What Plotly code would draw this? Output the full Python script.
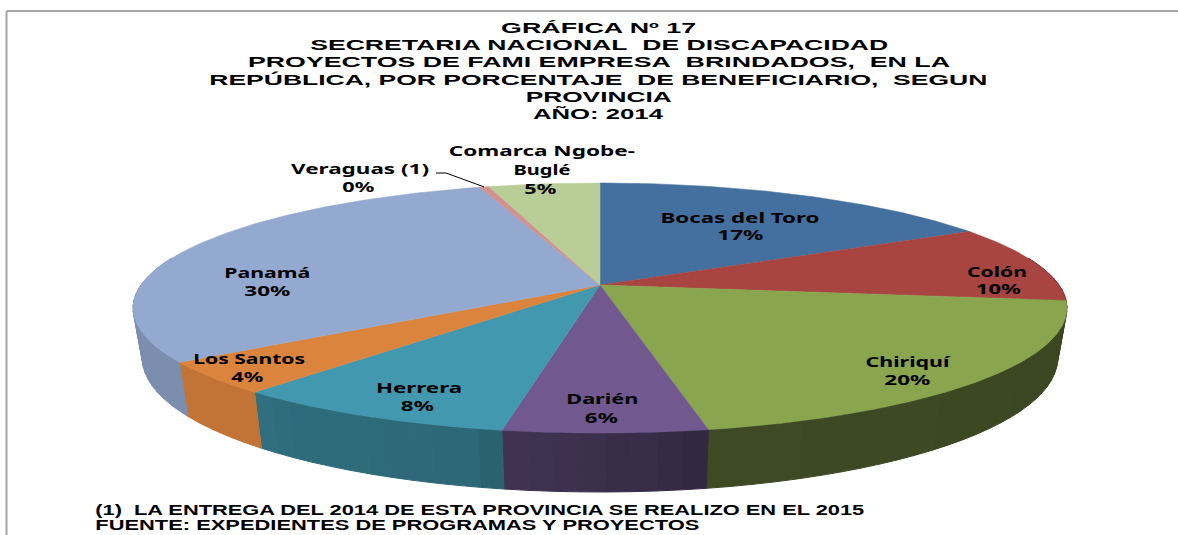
import json
import numpy as np
import plotly.graph_objects as go

# ---- data ----
PROVINCES = ["Bocas del Toro", "Colón", "Chiriquí", "Darién", "Herrera",
             "Los Santos", "Panamá", "Veraguas (1)", "Comarca Ngobe-Buglé"]
VALUES = [17, 10, 19.9, 5.9, 8.4, 4.1, 29.7, 0.4, 4.6]
TOP_COLORS = ["#44709f", "#a84541", "#89a54e", "#71588f", "#4198af",
              "#db843d", "#93a9cf", "#d19392", "#b9cd96"]

TITLE_LINES = ["GRÁFICA Nº 17",
               "SECRETARIA NACIONAL\u00a0 DE DISCAPACIDAD",
               "PROYECTOS DE FAMI EMPRESA\u00a0 BRINDADOS,\u00a0 EN LA",
               "REPÚBLICA, POR PORCENTAJE\u00a0 DE BENEFICIARIO,\u00a0 SEGUN",
               "PROVINCIA",
               "AÑO: 2014"]
NOTE_LINES = ["(1)\u00a0 LA ENTREGA DEL 2014 DE ESTA PROVINCIA SE REALIZO EN EL 2015",
              "FUENTE: EXPEDIENTES DE PROGRAMAS Y PROYECTOS"]
PIE_NAME_LINES = [["Bocas del Toro"], ["Colón"], ["Chiriquí"], ["Darién"], ["Herrera"],
                  ["Los Santos"], ["Panamá"], ["Veraguas (1)"], ["Comarca Ngobe-", "Buglé"]]

# ---- layout: text boxes as (left, right, centre y) in picture pixels ----
TITLE_BOX = [(501, 696, 27), (310, 888, 44), (248, 950, 61), (209, 987, 79), (526, 672, 96), (533, 663, 113)]
NOTE_BOX = [(95, 864, 510), (95, 699, 525)]
PIE_NAME_BOX = [[(660, 819, 217)], [(967, 1027, 271)], [(866, 950, 361)], [(566, 638, 398)], [(376, 462, 387)],
                [(193, 305, 358)], [(224, 310, 272)], [(291, 429, 168)], [(449, 635, 150), (513, 570, 169)]]
PIE_PCT_BOX = [(717, 763, 234), (976, 1021, 288), (884, 930, 379), (585, 618, 417), (401, 434, 405),
               (231, 263, 376), (244, 290, 290), (342, 374, 186), (524, 556, 188)]

# ---- perspective pie geometry ----
CX, CY = 600, 285
A, B, K = 459, 120.8, 0.184
DROP, SHRINK_X, STRETCH_Y = 48.6, 0.98, 1.07
SIDE_ANGLE = [90, 170, 175, 190, 192, 219, 220, 234, 235, 360]
SIDE_SHADE = [.42, .45, .50, .58, .68, .72, .88, .88, .84, .84]


def top(theta):
    t = np.radians(theta)
    d = 1 + K * np.cos(t)
    return CX + A * np.sin(t) / d, CY - B * np.cos(t) / d


def bottom(theta):
    x, y = top(theta)
    return CX + (x - CX) * SHRINK_X, CY + (y - CY) * STRETCH_Y + DROP


def shade(hex_color, f):
    r, g, b = (int(hex_color[i:i + 2], 16) for i in (1, 3, 5))
    return f"rgb({r * f:.0f},{g * f:.0f},{b * f:.0f})"


fig = go.Figure()
total = sum(VALUES)
edges = np.concatenate([[0], np.cumsum(VALUES) / total * 360])

# side wall
for i, name in enumerate(PROVINCES):
    a0, a1 = edges[i], edges[i + 1]
    n = max(2, int((a1 - a0) / 2.5))
    for s in range(n):
        t0 = a0 + (a1 - a0) * s / n
        t1 = a0 + (a1 - a0) * (s + 1) / n
        if np.cos(np.radians((t0 + t1) / 2)) > 0.25:
            continue
        x0, y0 = top(t0)
        x1, y1 = top(t1)
        x2, y2 = bottom(t1)
        x3, y3 = bottom(t0)
        col = shade(TOP_COLORS[i], float(np.interp((t0 + t1) / 2, SIDE_ANGLE, SIDE_SHADE)))
        fig.add_trace(go.Scatter(x=[x0, x1, x2, x3, x0], y=[y0, y1, y2, y3, y0], mode="lines",
                                 fill="toself", fillcolor=col, line=dict(color=col, width=1),
                                 hoverinfo="skip", showlegend=False))

# top faces
for i, name in enumerate(PROVINCES):
    th = np.linspace(edges[i], edges[i + 1], max(3, int(VALUES[i] * 6)))
    x, y = top(th)
    xs = np.concatenate([[CX], x, [CX]])
    ys = np.concatenate([[CY], y, [CY]])
    fig.add_trace(go.Scatter(x=xs, y=ys, mode="lines", fill="toself", fillcolor=TOP_COLORS[i],
                             line=dict(color=TOP_COLORS[i], width=0.5), name=name,
                             text=f"{name}: {VALUES[i] / total:.0%}", hoverinfo="text", showlegend=False))

# leader line for Veraguas
vi = PROVINCES.index("Veraguas (1)")
lx, ly = top((edges[vi] + edges[vi + 1]) / 2)
fig.add_trace(go.Scatter(x=[436, 446, lx], y=[173, 173, ly], mode="lines",
                         line=dict(color="#000000", width=1), hoverinfo="skip", showlegend=False))

annotations, widths = [], []


def add_text(text, box, family, size):
    x0, x1, yc = box
    annotations.append(dict(text=f"<b>{text}</b>", x=(x0 + x1) / 2, y=yc, xref="x", yref="y",
                            xanchor="center", yanchor="middle", showarrow=False,
                            font=dict(family=family, size=size, color="#000000")))
    widths.append(x1 - x0)


SANS = "Liberation Sans"
LABEL = "Noto Sans"
for line, box in zip(TITLE_LINES, TITLE_BOX):
    add_text(line, box, SANS, 15)
for line, box in zip(NOTE_LINES, NOTE_BOX):
    add_text(line, box, SANS, 14)
for i in range(len(PROVINCES)):
    for line, box in zip(PIE_NAME_LINES[i], PIE_NAME_BOX[i]):
        add_text(line, box, LABEL, 14)
    add_text(f"{VALUES[i] / total:.0%}", PIE_PCT_BOX[i], LABEL, 14)

FRAME = "#a6a6a6"
fig.update_layout(
    width=1178, height=535, margin=dict(l=0, r=0, t=0, b=0), autosize=False,
    paper_bgcolor="#ffffff", plot_bgcolor="#ffffff", showlegend=False,
    xaxis=dict(range=[0, 1178], visible=False, fixedrange=True),
    yaxis=dict(range=[535, 0], visible=False, fixedrange=True),
    annotations=annotations,
    shapes=[dict(type="line", x0=6.5, x1=1178, y0=11, y1=11, xref="x", yref="y", line=dict(color=FRAME, width=2)),
            dict(type="line", x0=6.5, x1=6.5, y0=11, y1=535, xref="x", yref="y", line=dict(color=FRAME, width=2))],
)

POST = """
document.documentElement.style.margin = '0';
document.body.style.margin = '0';
document.body.style.overflow = 'hidden';
var w = %s;
document.querySelectorAll('.annotation-text').forEach(function (t, i) {
  if (w[i]) { t.setAttribute('textLength', w[i]); t.setAttribute('lengthAdjust', 'spacingAndGlyphs'); }
});
""" % json.dumps(widths)

fig.write_html("out.html", post_script=POST, config={"displayModeBar": False},
               default_width=1178, default_height=535)
